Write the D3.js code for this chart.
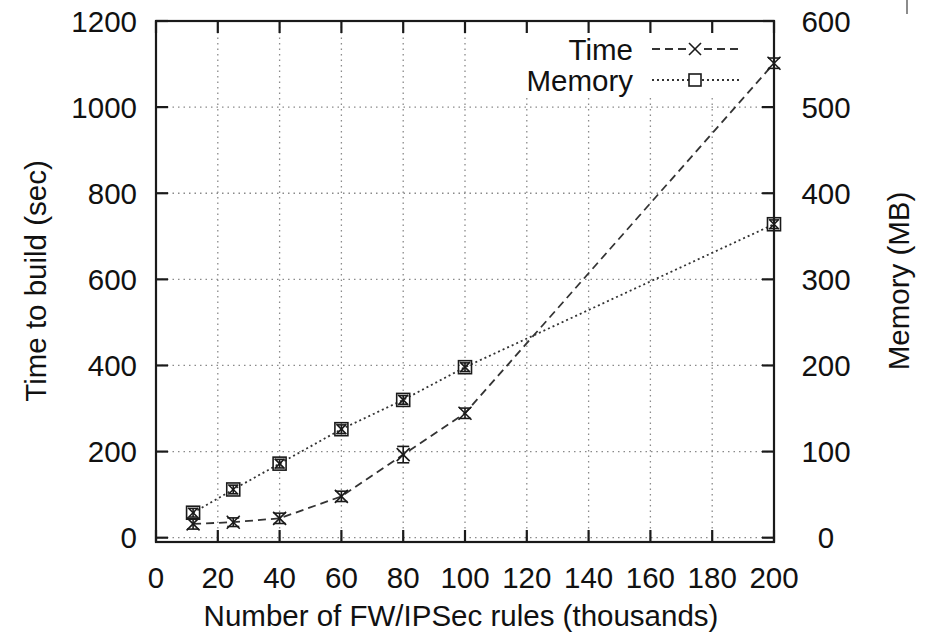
<!DOCTYPE html>
<html><head><meta charset="utf-8">
<script src="https://cdn.jsdelivr.net/npm/d3@7"></script>
<style>
html,body{margin:0;padding:0;background:#fff;}
svg{display:block;}
text{font-family:"Liberation Sans",Arial,Helvetica,sans-serif;fill:#111;}
</style></head>
<body>
<svg id="chart" width="930" height="634"></svg>
<script>
// ---- data ----
const rules    = [12, 25, 40, 60, 80, 100, 200];      // thousands of FW/IPSec rules
const timeSec  = [32, 36, 45, 96, 193, 289, 1102];    // time to build (sec)
const timeErr  = [12, 10, 12, 12, 19, 12, 12];        // error (sec)
const memoryMB = [29, 56, 86, 126, 160, 198, 364];    // memory (MB)
const memErr   = [5, 5, 5, 5, 5, 5, 5];               // error (MB)
const xTicks   = [0, 20, 40, 60, 80, 100, 120, 140, 160, 180, 200];
const yTicks   = [0, 200, 400, 600, 800, 1000, 1200];
const y2Ticks  = [0, 100, 200, 300, 400, 500, 600];
const seriesNames = ["Time", "Memory"];

const svg = d3.select("#chart");
const L = 156, R = 774, T = 21, B = 542;
const x  = d3.scaleLinear().domain([0, 200]).range([L, R]);
const y  = d3.scaleLinear().domain([-10, 1200]).range([B, T]);
const y2 = d3.scaleLinear().domain([-5, 600]).range([B, T]);
const FS = 29.5;
const ink = "#1a1a1a";

// grid
const grid = svg.append("g").attr("stroke", "#8a8a8a").attr("stroke-width", 1.3)
  .attr("stroke-dasharray", "1.5,4");
xTicks.filter(v => v > 0 && v < 200).forEach(v => {
  grid.append("line").attr("x1", x(v)).attr("x2", x(v)).attr("y1", T).attr("y2", B);
});
yTicks.filter(v => v < 1200).forEach(v => {
  grid.append("line").attr("x1", L).attr("x2", R).attr("y1", y(v)).attr("y2", y(v));
});

// legend background (hides grid)
svg.append("rect").attr("x", 526).attr("y", T).attr("width", R - 526).attr("height", 76)
  .attr("fill", "#fff");

// lines
const pts = (ys, sc) => rules.map((r, i) => [x(r), sc(ys[i])]);
const line = d3.line();
svg.append("path").attr("d", line(pts(timeSec, y))).attr("fill", "none")
  .attr("stroke", "#333").attr("stroke-width", 1.8).attr("stroke-dasharray", "8,5");
svg.append("path").attr("d", line(pts(memoryMB, y2))).attr("fill", "none")
  .attr("stroke", "#333").attr("stroke-width", 1.8).attr("stroke-dasharray", "2,3");

// markers
function cross(g, cx, cy, s) {
  g.append("line").attr("x1", cx - s).attr("y1", cy - s).attr("x2", cx + s).attr("y2", cy + s);
  g.append("line").attr("x1", cx - s).attr("y1", cy + s).attr("x2", cx + s).attr("y2", cy - s);
}
function errbar(g, cx, cyLo, cyHi, w) {
  g.append("line").attr("x1", cx).attr("x2", cx).attr("y1", cyLo).attr("y2", cyHi);
  g.append("line").attr("x1", cx - w).attr("x2", cx + w).attr("y1", cyLo).attr("y2", cyLo);
  g.append("line").attr("x1", cx - w).attr("x2", cx + w).attr("y1", cyHi).attr("y2", cyHi);
}
const mk = svg.append("g").attr("stroke", ink).attr("stroke-width", 1.6).attr("fill", "none");
rules.forEach((r, i) => {
  const cx = x(r);
  // time
  cross(mk, cx, y(timeSec[i]), 6.5);
  errbar(mk, cx, y(timeSec[i] - timeErr[i]), y(timeSec[i] + timeErr[i]), 6);
  // memory
  const cy = y2(memoryMB[i]);
  mk.append("rect").attr("x", cx - 6.5).attr("y", cy - 6.5).attr("width", 13).attr("height", 13);
  cross(mk, cx, cy, 5);
  errbar(mk, cx, y2(memoryMB[i] - memErr[i]), y2(memoryMB[i] + memErr[i]), 4);
});

// frame
const fr = svg.append("g").attr("stroke", ink).attr("stroke-width", 2.2).attr("fill", "none");
fr.append("rect").attr("x", L).attr("y", T).attr("width", R - L).attr("height", B - T);
const TL = 12;
xTicks.forEach(v => {
  fr.append("line").attr("x1", x(v)).attr("x2", x(v)).attr("y1", B).attr("y2", B - TL);
  fr.append("line").attr("x1", x(v)).attr("x2", x(v)).attr("y1", T).attr("y2", T + TL);
});
yTicks.forEach(v => {
  fr.append("line").attr("x1", L).attr("x2", L + TL).attr("y1", y(v)).attr("y2", y(v));
});
y2Ticks.forEach(v => {
  fr.append("line").attr("x1", R).attr("x2", R - TL).attr("y1", y2(v)).attr("y2", y2(v));
});

// tick labels
const lab = svg.append("g").attr("font-size", FS);
xTicks.forEach(v => {
  lab.append("text").attr("x", x(v)).attr("y", 588).attr("text-anchor", "middle").text(v);
});
yTicks.forEach(v => {
  lab.append("text").attr("x", 137).attr("y", y(v)).attr("dy", "0.36em")
    .attr("text-anchor", "end").text(v);
});
y2Ticks.forEach(v => {
  lab.append("text").attr("x", 826).attr("y", y2(v)).attr("dy", "0.36em")
    .attr("text-anchor", "middle").text(v);
});

// axis titles
lab.append("text").attr("x", 461).attr("y", 626).attr("text-anchor", "middle")
  .text("Number of FW/IPSec rules (thousands)");
lab.append("text").attr("transform", "translate(46,281) rotate(-90)")
  .attr("text-anchor", "middle").text("Time to build (sec)");
lab.append("text").attr("transform", "translate(909,281) rotate(-90)")
  .attr("text-anchor", "middle").text("Memory (MB)");

// legend
const lg = svg.append("g");
const rowsY = [49, 80];
seriesNames.forEach((name, i) => {
  lg.append("text").attr("x", 633).attr("y", rowsY[i]).attr("dy", "0.36em")
    .attr("font-size", FS).attr("text-anchor", "end").text(name);
  lg.append("line").attr("x1", 652).attr("x2", 739).attr("y1", rowsY[i]).attr("y2", rowsY[i])
    .attr("stroke", "#333").attr("stroke-width", 1.8)
    .attr("stroke-dasharray", i === 0 ? "8,5" : "2,3");
});
const lgm = lg.append("g").attr("stroke", ink).attr("stroke-width", 1.6).attr("fill", "none");
lgm.append("rect").attr("x", 689).attr("y", rowsY[0] - 8).attr("width", 12).attr("height", 16)
  .attr("fill", "#fff").attr("stroke", "none");
cross(lgm, 695, rowsY[0], 6);
lgm.append("rect").attr("x", 689).attr("y", rowsY[1] - 6).attr("width", 12).attr("height", 12)
  .attr("fill", "#fff");

// small stray mark at top right of the original image
svg.append("line").attr("x1", 907).attr("x2", 907).attr("y1", 0).attr("y2", 14)
  .attr("stroke", "#666").attr("stroke-width", 1.5);
</script>
</body></html>
